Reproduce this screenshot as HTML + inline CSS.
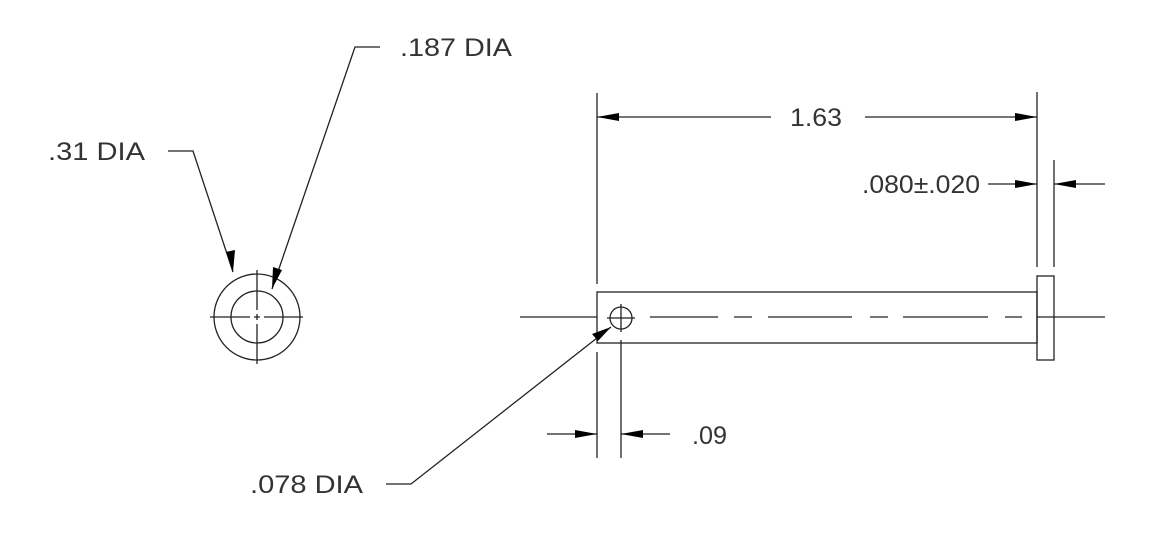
<!DOCTYPE html>
<html><head><style>body{margin:0;background:#fff}svg{display:block}text{font-family:"Liberation Sans",sans-serif;font-size:25px;fill:#333}</style></head>
<body>
<svg width="1169" height="550" viewBox="0 0 1169 550" xmlns="http://www.w3.org/2000/svg">
<g stroke="#222" stroke-width="1.3" fill="none">
<circle cx="257" cy="317" r="43"/>
<circle cx="257" cy="317" r="26"/>
<path d="M210 317H250M254 317H260M264 317H303M257 270V310M257 314V320M257 324V364"/>
<path d="M168 151H193L233 272"/>
<path d="M380 47H355L272 289"/>
<path d="M386 484H411L611 327"/>
<rect x="597" y="292" width="440" height="51"/>
<rect x="1037" y="276" width="17" height="84"/>
<path d="M520 317H597M650 317H718M734 317H752M768 317H852M870 317H888M903 317H988M1005 317H1022M1037 317H1105"/>
<circle cx="621" cy="318" r="11"/>
<path d="M607 318H635M621 304V332"/>
<path d="M597 93V284M597 352V458M621 340V458M1037 92V267M1054 160V267"/>
<path d="M771 117H597M865 117H1037M988 184H1037M1105 184H1054M547 434H597M670 434H621"/>
</g>
<g fill="#000">
<path d="M233 272l-7-20 9-2z"/>
<path d="M272 289l1-22 9 3z"/>
<path d="M611 327l-19 7 6 7z"/>
<path d="M597 117l22-4v8z"/>
<path d="M1037 117l-22-4v8z"/>
<path d="M1037 184l-22-4v8z"/>
<path d="M1054 184l22-4v8z"/>
<path d="M597 434l-22-4v8z"/>
<path d="M621 434l22-4v8z"/>
</g>
<text x="48" y="160" textLength="97" lengthAdjust="spacingAndGlyphs">.31 DIA</text>
<text x="400" y="56" textLength="112" lengthAdjust="spacingAndGlyphs">.187 DIA</text>
<text x="790" y="126" textLength="52" lengthAdjust="spacingAndGlyphs">1.63</text>
<text x="862" y="193" textLength="118" lengthAdjust="spacingAndGlyphs">.080±.020</text>
<text x="692" y="444" textLength="35" lengthAdjust="spacingAndGlyphs">.09</text>
<text x="250" y="493" textLength="113" lengthAdjust="spacingAndGlyphs">.078 DIA</text>
</svg>
</body></html>
